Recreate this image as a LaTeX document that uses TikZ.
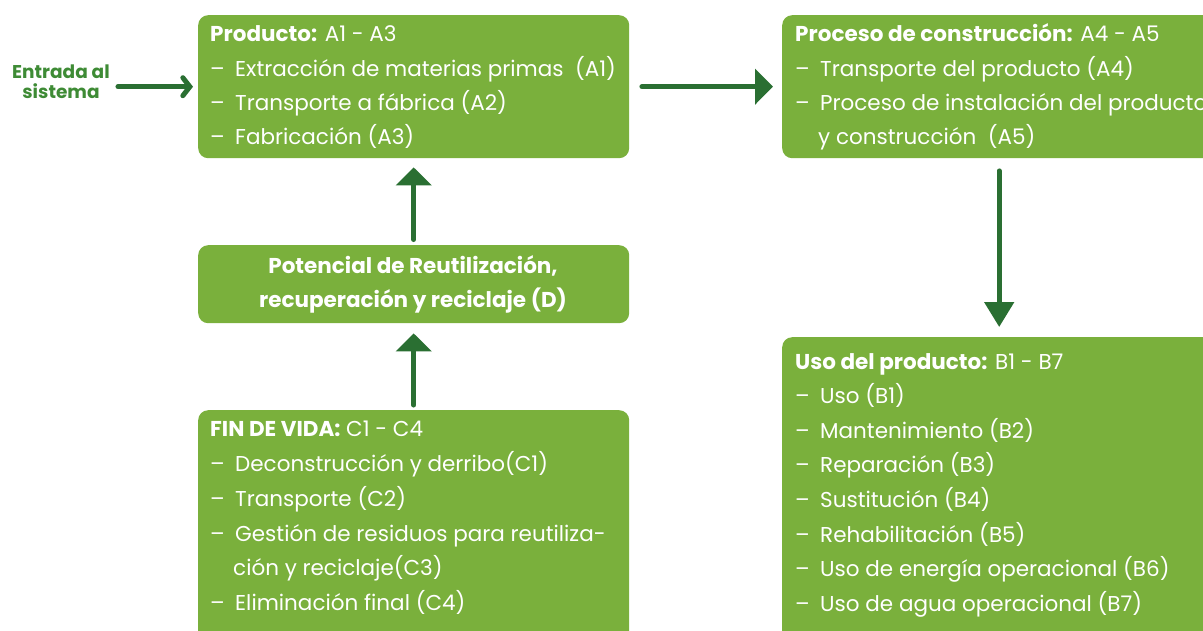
\documentclass[tikz,border=0pt]{standalone}
\usepackage{fontspec}
\setmainfont{Poppins}
\usetikzlibrary{arrows.meta}
\definecolor{boxgreen}{HTML}{7AB03C}
\definecolor{arrowgreen}{HTML}{2A6F32}
\definecolor{labelgreen}{HTML}{3E8B35}
\tikzset{
  stagebox/.style={fill=boxgreen, draw=none, rounded corners=10pt, anchor=north west, inner sep=0pt},
  line/.style={text=white, inner sep=0pt, anchor=base west, font=\fontsize{21.5}{24}\selectfont},
  cline/.style={line, anchor=base, font=\fontsize{21.5}{24}\selectfont\bfseries},
  flow/.style={draw=arrowgreen, line width=5pt, line cap=round},
  bigtip/.style={-{Triangle[length=18pt,width=35pt]}},
}
\newcommand{\itm}{\makebox[25pt][l]{–}}
\begin{document}
\begin{tikzpicture}[x=1pt,y=-1pt]
\useasboundingbox (0,0) rectangle (1203,630);
\clip (0,0) rectangle (1203,630);
% boxes
\node[stagebox, minimum width=431pt, minimum height=143pt] (prod) at (198,15) {};
\node[stagebox, minimum width=434pt, minimum height=143pt] (proc) at (782,15) {};
\node[stagebox, minimum width=431pt, minimum height=78pt] (pot) at (198,245) {};
\node[stagebox, minimum width=431pt, minimum height=240pt] (fin) at (198,410) {};
\node[stagebox, minimum width=434pt, minimum height=313pt] (uso) at (782,337) {};
% Entrada label
\node[text=labelgreen, font=\fontsize{18.5}{20}\selectfont\bfseries, align=center, inner sep=0pt] (entrada) at (61,82) {Entrada al\\sistema};
% Producto text
\node[line] (p0) at (210,41) {\textbf{Producto:} A1 - A3};
\node[line] (p1) at (210,76) {\itm Extracción de materias primas\ \ (A1)};
\node[line] (p2) at (210,110) {\itm Transporte a fábrica (A2)};
\node[line] (p3) at (210,144) {\itm Fabricación (A3)};
% Proceso text
\node[line] (c0) at (795,41) {\textbf{Proceso de construcción:} A4 - A5};
\node[line] (c1) at (795,76) {\itm Transporte del producto (A4)};
\node[line] (c2) at (795,110) {\itm Proceso de instalación del producto};
\node[line] (c3) at (818,144) {y construcción\ \ (A5)};
% Potencial text
\node[cline] (d1) at (413,273) {Potencial de Reutilización,};
\node[cline] (d2) at (413,307) {recuperación y reciclaje (D)};
% Fin de vida text
\node[line] (f0) at (210,436) {\textbf{FIN DE VIDA:} C1 - C4};
\node[line] (f1) at (210,471) {\itm Deconstrucción y derribo(C1)};
\node[line] (f2) at (210,506) {\itm Transporte (C2)};
\node[line] (f3) at (210,541) {\itm Gestión de residuos para reutiliza-};
\node[line] (f4) at (233,575) {ción y reciclaje(C3)};
\node[line] (f5) at (210,610) {\itm Eliminación final (C4)};
% Uso text
\node[line] (u0) at (795,369) {\textbf{Uso del producto:} B1 - B7};
\node[line] (u1) at (795,403) {\itm Uso (B1)};
\node[line] (u2) at (795,438) {\itm Mantenimiento (B2)};
\node[line] (u3) at (795,472) {\itm Reparación (B3)};
\node[line] (u4) at (795,507) {\itm Sustitución (B4)};
\node[line] (u5) at (795,542) {\itm Rehabilitación (B5)};
\node[line] (u6) at (795,576) {\itm Uso de energía operacional (B6)};
\node[line] (u7) at (795,611) {\itm Uso de agua operacional (B7)};
% arrows
\draw[flow, -{Straight Barb[length=7pt,width=18pt,line cap=round]}, shorten <=8pt, shorten >=5pt] (entrada.east |- prod.west) -- (prod.west);
\draw[flow, bigtip, shorten <=12.5pt, shorten >=9pt] (prod.east) -- (proc.west);
\draw[flow, -{Triangle[length=25pt,width=29pt]}, shorten <=12.5pt, shorten >=10pt] (proc.south) -- (uso.north);
\draw[flow, bigtip, shorten <=5.5pt, shorten >=9pt] (pot.north) -- (prod.south);
\draw[flow, bigtip, shorten <=5pt, shorten >=10pt] (fin.north) -- (pot.south);
\end{tikzpicture}
\end{document}
